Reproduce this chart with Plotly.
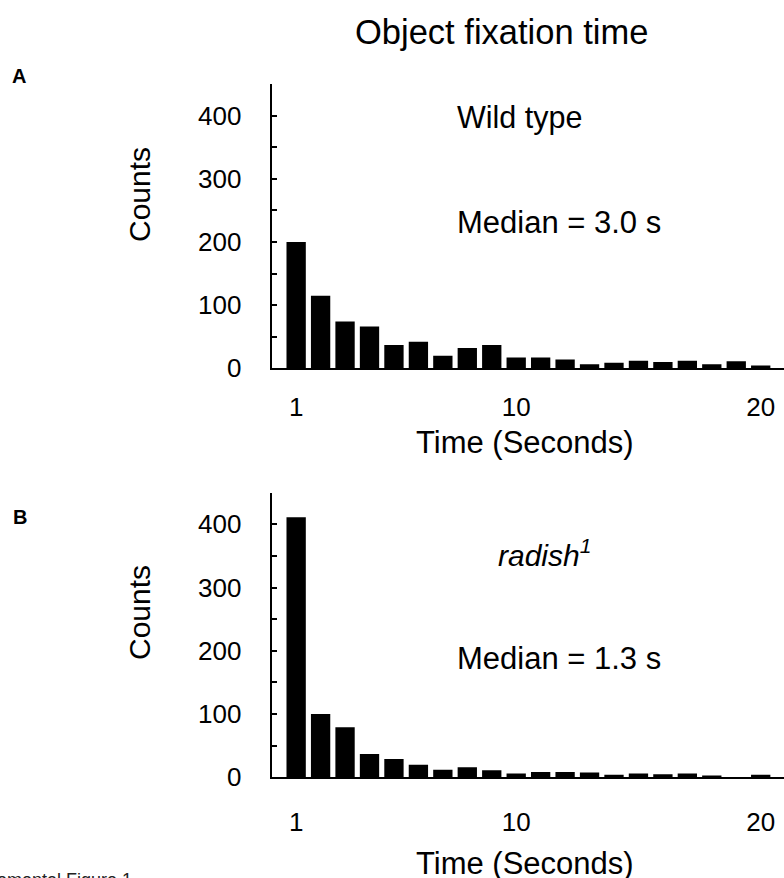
import plotly.graph_objects as go

W, H = 784, 878

# ---- data ----
bins = list(range(1, 21))
wild_type_counts = [200, 115, 74, 66, 37, 42, 20, 32, 37, 17, 17, 14, 6.5, 8.7, 12, 9.8, 12, 6.5, 11, 4.3]
radish_counts = [411, 100, 79, 37, 29, 20, 12, 16, 11, 6, 8.5, 8.5, 7.5, 4, 6, 5, 6, 3, 0, 4]
y_tickvals = [0, 100, 200, 300, 400]
y_ticktext = ["0", "100", "200", "300", "400"]
y_minor = [50, 150, 250, 350, 450]
x_tickvals = [1, 10, 20]
x_ticktext = ["1", "10", "20"]

FONT = "Liberation Sans, Arial, Helvetica, sans-serif"


def px(x):
    return x / W


def py(y):
    return 1 - y / H


fig = go.Figure()
fig.add_trace(go.Bar(x=bins, y=wild_type_counts, marker=dict(color="black", line=dict(width=0)),
                     xaxis="x", yaxis="y", showlegend=False))
fig.add_trace(go.Bar(x=bins, y=radish_counts, marker=dict(color="black", line=dict(width=0)),
                     xaxis="x2", yaxis="y2", showlegend=False))

x_left = 271.7
pitch = 24.45  # px per bin
x_dom = [px(x_left), 1.0]
xrange = [0, (W - x_left) / pitch]
common_x = dict(range=xrange, domain=x_dom, showline=True, linecolor="black", linewidth=2,
                showgrid=False, zeroline=False, ticks="", tickvals=x_tickvals, ticktext=x_ticktext,
                tickfont=dict(size=26, color="black", family=FONT), fixedrange=True,
                automargin=False)
common_y = dict(range=[0, 450], showline=True, linecolor="black", linewidth=2, showgrid=False,
                zeroline=False, ticks="inside", ticklen=5, tickwidth=1.5, tickcolor="black",
                tickvals=y_tickvals, ticktext=y_ticktext,
                minor=dict(tickvals=y_minor, ticks="inside", ticklen=5,
                           tickwidth=1.5, tickcolor="black", showgrid=False),
                tickfont=dict(size=26, color="black", family=FONT), ticklabelstandoff=23,
                fixedrange=True, automargin=False)

fig.update_layout(
    template="none",
    width=W, height=H,
    margin=dict(l=0, r=0, t=0, b=0, pad=0),
    paper_bgcolor="white", plot_bgcolor="white",
    bargap=0.21,
    showlegend=False,
    font=dict(family=FONT, color="black"),
    xaxis=dict(common_x, anchor="y", ticklabelstandoff=14),
    yaxis=dict(common_y, domain=[py(368.3), py(84)], anchor="x"),
    xaxis2=dict(common_x, anchor="y2", ticklabelstandoff=20),
    yaxis2=dict(common_y, domain=[py(777.3), py(492.7)], anchor="x2"),
)

ann = []


def add(text, x, y, size, xanchor="center", yanchor="middle", angle=0, color="black"):
    ann.append(dict(text=text, x=px(x), y=py(y), xref="paper", yref="paper", showarrow=False,
                    xanchor=xanchor, yanchor=yanchor, textangle=angle,
                    font=dict(size=size, color=color, family=FONT)))


add("Object fixation time", 501, 32, 34.5)
add("<b>A</b>", 10, 76, 20, xanchor="left")
add("<b>B</b>", 11, 517, 20, xanchor="left")
add("Counts", 139, 195, 30, angle=-90)
add("Counts", 139, 613, 30, angle=-90)
add("Time (Seconds)", 525, 442, 31)
add("Time (Seconds)", 525, 863, 31)
add("Wild type", 455, 118, 30.5, xanchor="left")
add("Median = 3.0 s", 455, 222, 31, xanchor="left")
add("<i>radish<sup>1</sup></i>", 496, 553, 30, xanchor="left")
add("Median = 1.3 s", 455, 658, 31, xanchor="left")
add("Supplemental Figure 1", 134, 868, 18, xanchor="right", yanchor="top", color="#222")

fig.update_layout(annotations=ann)

fig.write_html("out.html", config={"displayModeBar": False},
               post_script="document.body.style.margin='0';")
